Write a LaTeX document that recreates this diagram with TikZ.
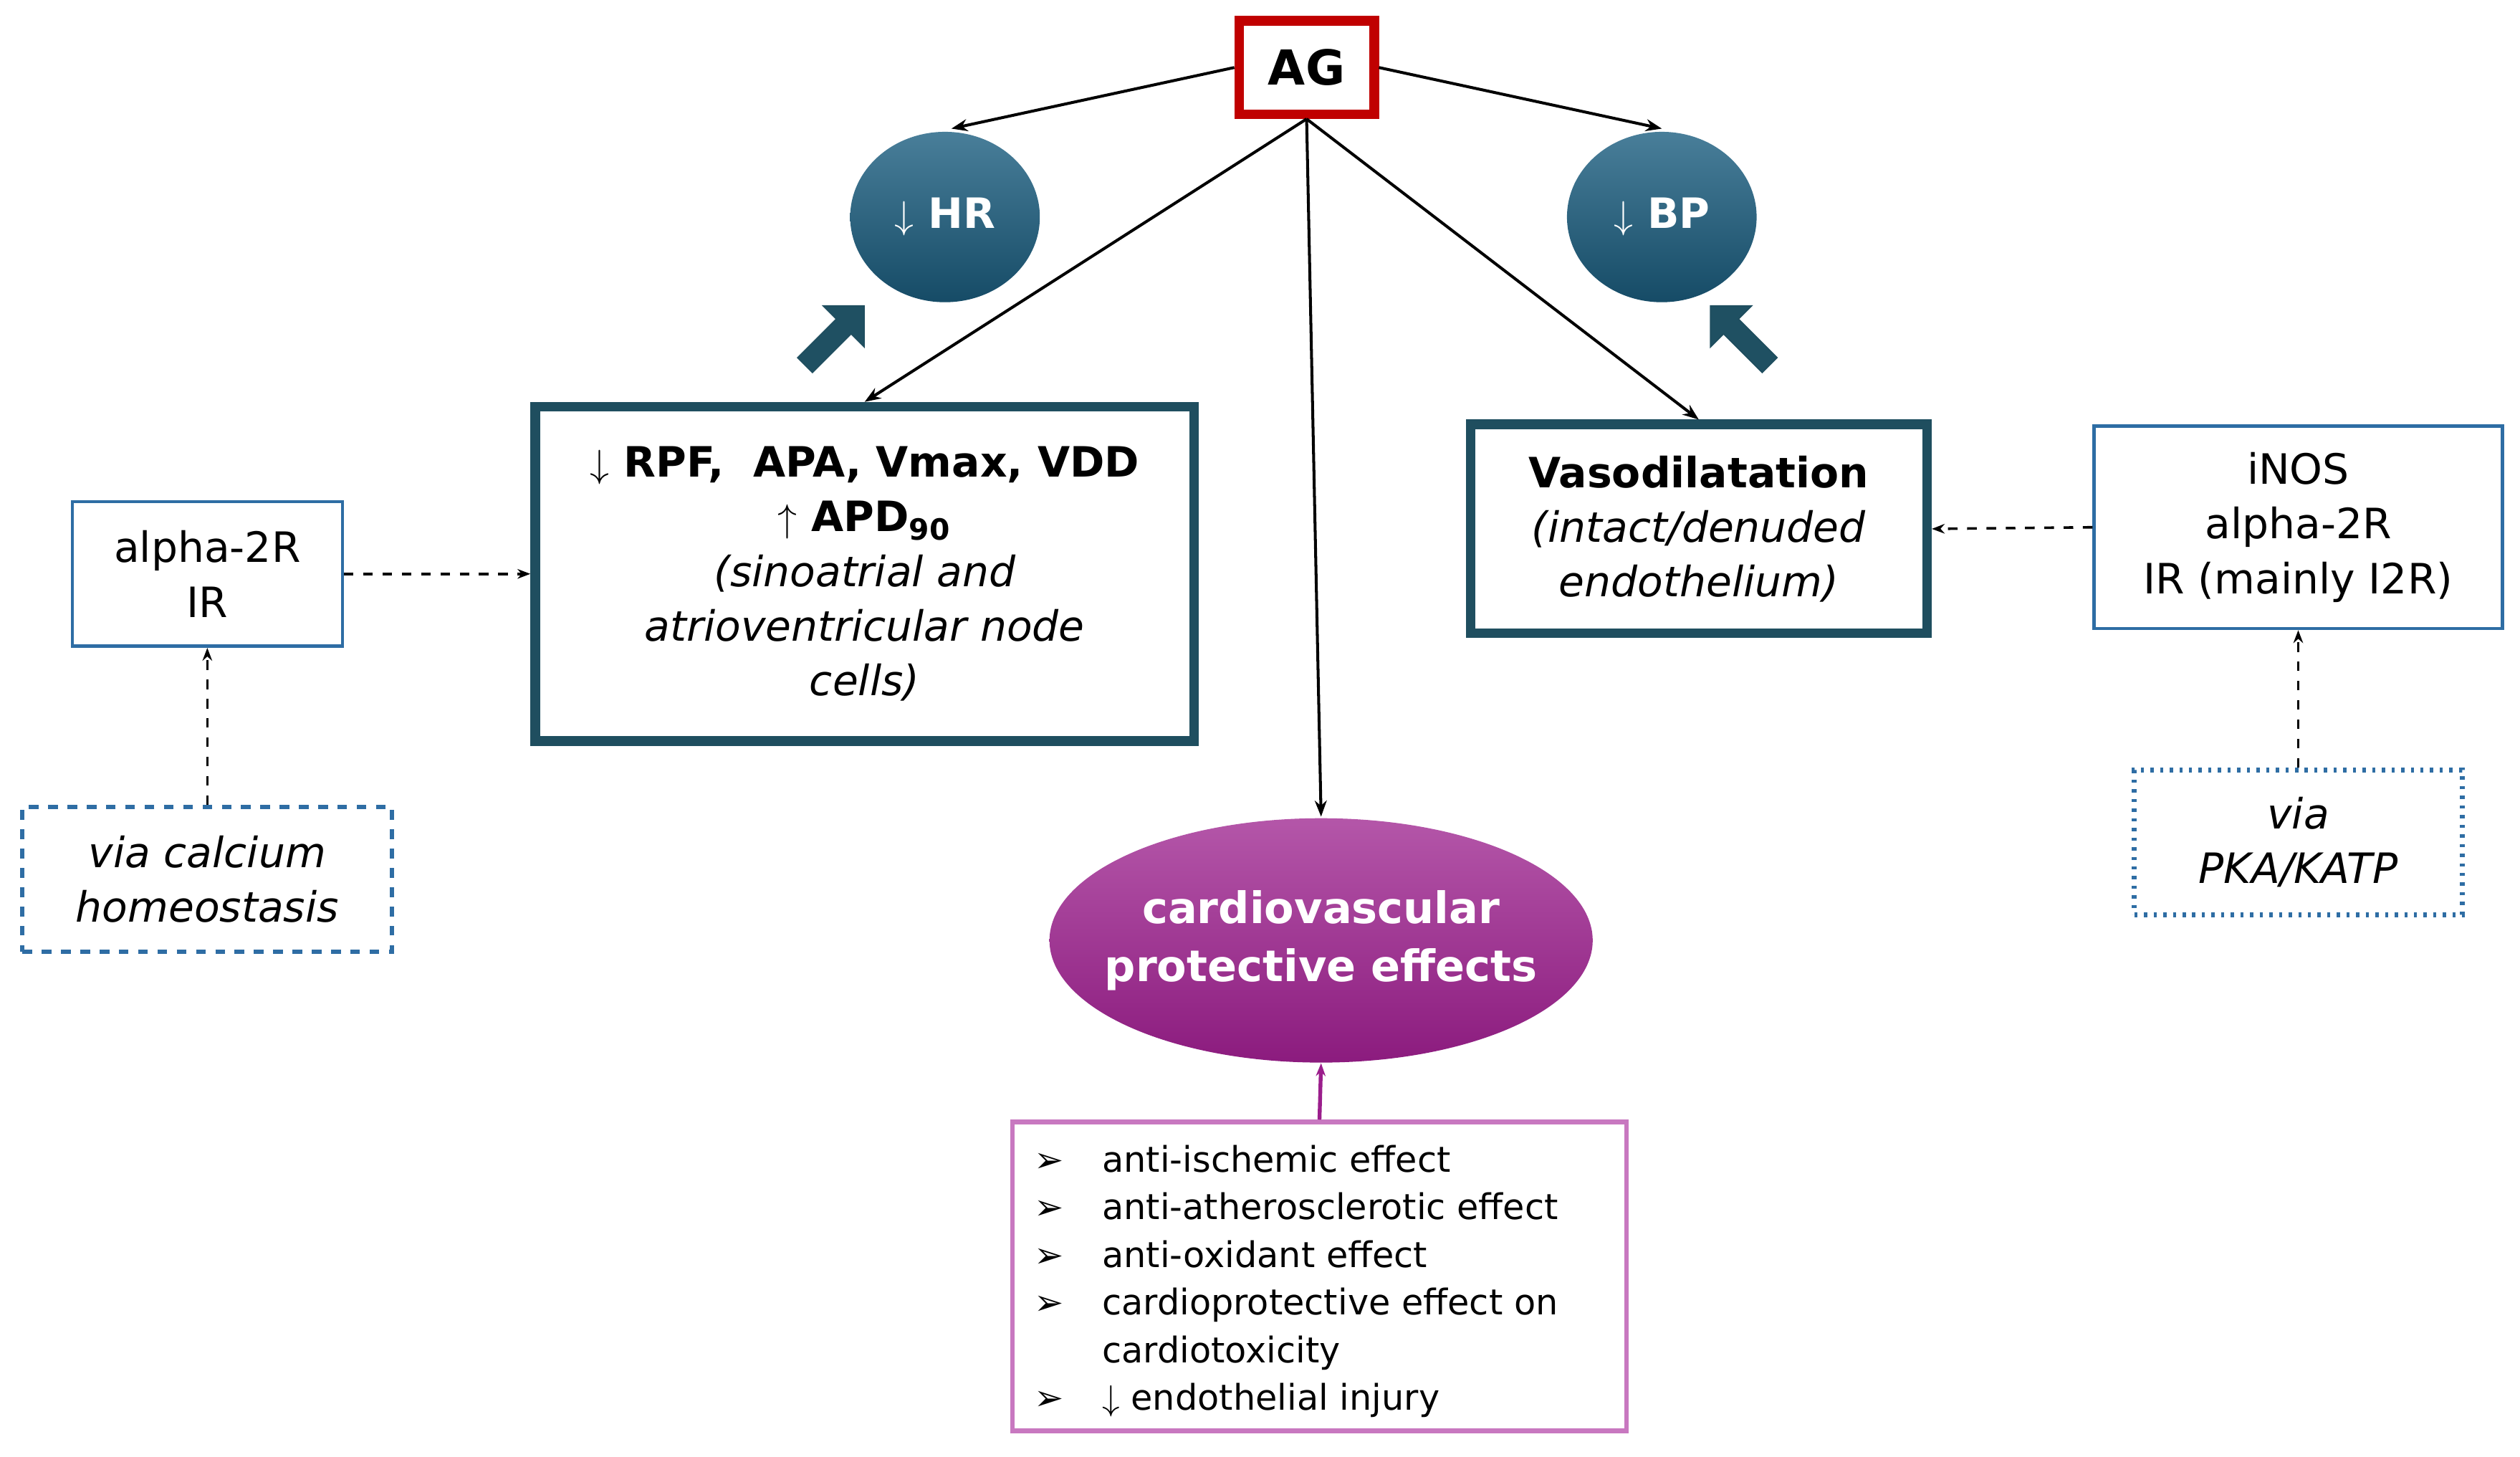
\documentclass[tikz,border=0pt]{standalone}
\usepackage{fontspec}
\setmainfont{DejaVu Sans}
\usetikzlibrary{shapes.arrows,shapes.geometric,arrows.meta}
\definecolor{teal1}{HTML}{1B5E80}
\definecolor{tealb}{HTML}{1F4E5F}
\definecolor{blu}{HTML}{2E6DA4}
\definecolor{agred}{HTML}{C00000}
\definecolor{purp}{HTML}{9B1E8C}
\definecolor{pink}{HTML}{C878C0}
\begin{document}
\begin{tikzpicture}[x=0.5pt,y=-0.5pt,
 ball/.style={ellipse,minimum width=59pt,minimum height=53pt,inner sep=0pt,
   top color=teal1!80!white,bottom color=teal1!80!black,text=white,font=\fontsize{13}{15}\selectfont\bfseries},
 thick box/.style={draw=tealb,line width=3pt,align=center,inner sep=0pt,font=\fontsize{13}{17}\selectfont},
 thin box/.style={draw=blu,line width=1pt,align=center,inner sep=0pt,font=\fontsize{13}{17}\selectfont},
 arr/.style={-{Stealth[length=5pt]},line width=0.9pt},
 darr/.style={-{Stealth[length=4pt]},dashed,line width=0.8pt},
 blk/.style={single arrow,fill=tealb!90!teal1,draw=tealb,minimum height=26pt,minimum width=18pt,single arrow head extend=3pt,inner sep=1.5pt}]
\useasboundingbox (0,0) rectangle (1568,906);
\node[draw=agred,line width=3pt,minimum width=42pt,minimum height=29pt,font=\fontsize{15}{17}\selectfont\bfseries] (ag) at (813,42) {AG};
\node[ball] (hr) at (588,135) {$\downarrow$ HR};
\node[ball] (bp) at (1034,135) {$\downarrow$ BP};
\node[blk,rotate=45] (ba1) at (517,211) {};
\node[blk,rotate=135] (ba2) at (1085,211) {};
\node[thick box,minimum width=205pt,minimum height=104pt] (rpf) at (538,357)
 {\bfseries $\downarrow$ RPF,\ \ APA, Vmax, VDD\\ \bfseries $\uparrow$ APD\textsubscript{90}\\ \itshape (sinoatrial and\\ \itshape atrioventricular node\\ \itshape cells)};
\node[thick box,minimum width=142pt,minimum height=65pt] (vaso) at (1057,329)
 {\bfseries Vasodilatation\\ \itshape (intact/denuded\\ \itshape endothelium)};
\node[thin box,minimum width=84pt,minimum height=45pt] (alpha) at (129,357) {alpha-2R\\IR};
\node[thin box,dashed,line width=1.3pt,minimum width=115pt,minimum height=45pt,font=\fontsize{13}{17}\selectfont\itshape] (calc) at (129,547) {via calcium\\homeostasis};
\node[thin box,minimum width=127pt,minimum height=63pt] (inos) at (1430,328) {iNOS\\alpha-2R\\IR (mainly I2R)};
\node[thin box,dotted,line width=1.5pt,minimum width=102pt,minimum height=45pt,font=\fontsize{13}{17}\selectfont\itshape] (pka) at (1430,524) {via\\PKA/KATP};
\node[ellipse,minimum width=169pt,minimum height=76pt,inner sep=0pt,top color=purp!75!white,bottom color=purp!90!black] (cv) at (822,585) {};
\node[text=white,align=center,font=\fontsize{13.5}{18}\selectfont\bfseries] (cvt) at (cv.center) {cardiovascular\\protective effects};
\node[draw=pink,line width=1.5pt,minimum width=191pt,minimum height=96pt,inner sep=0pt] (list) at (821,794) {};
\node[anchor=north west,inner sep=0pt,font=\fontsize{11}{14.8}\selectfont,align=left] (ltext) at (643,708) {%
\begin{tabular}{@{}l@{\hspace{12pt}}l@{}}
➢ & anti-ischemic effect\\
➢ & anti-atherosclerotic effect\\
➢ & anti-oxidant effect\\
➢ & cardioprotective effect on\\
 & cardiotoxicity\\
➢ & $\downarrow$ endothelial injury
\end{tabular}};
\draw[arr] (ag.west) -- (592,80);
\draw[arr] (ag.east) -- (1034,80);
\draw[arr] (ag.south) -- (rpf.north);
\draw[arr] (ag.south) -- (vaso.north);
\draw[arr] (ag.south) -- (822,508);
\draw[darr] (alpha.east) -- (rpf.west);
\draw[darr] (calc.north) -- (alpha.south);
\draw[darr] (inos.west) -- (vaso.east);
\draw[darr] (pka.north) -- (inos.south);
\draw[-{Stealth[length=4pt]},draw=purp,line width=1.2pt] (list.north) -- (cv.south);
\end{tikzpicture}
\end{document}
